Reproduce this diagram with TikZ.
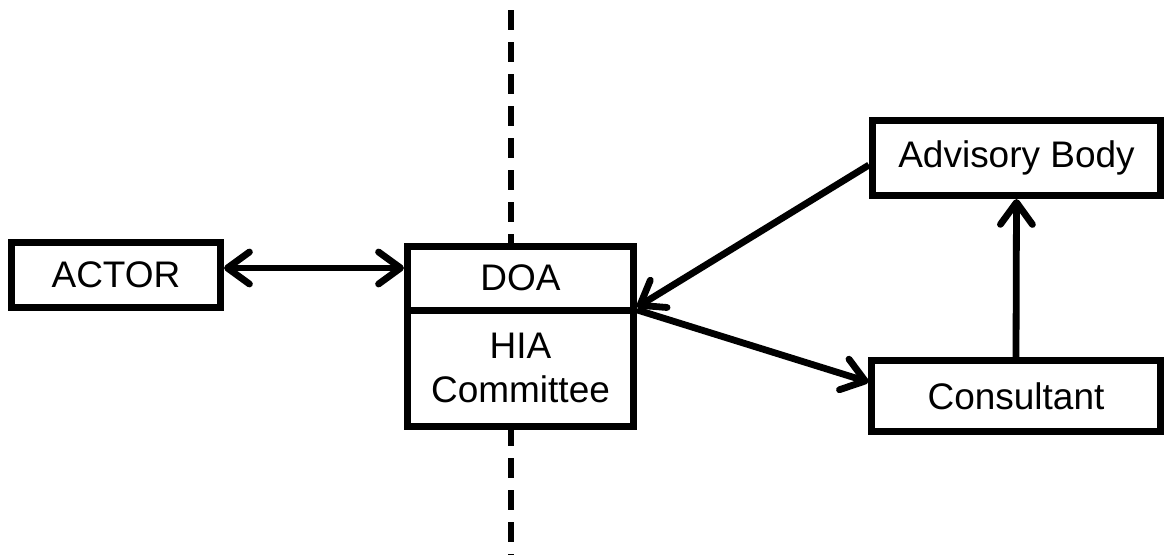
\documentclass[tikz,border=0pt]{standalone}
\usepackage{fontspec}
\setmainfont{Liberation Sans}
\usetikzlibrary{positioning, arrows.meta}

\begin{document}
\begin{tikzpicture}[
    x=0.025cm, y=-0.025cm,
    box/.style={
      draw, fill=white, line width=0.175cm, align=center,
      font=\fontsize{26.3}{31.5}\selectfont, inner sep=0pt
    },
    arr/.style={-{Straight Barb[length=0.55cm, width=0.8cm, round]}, line width=0.17cm},
    biarr/.style={{Straight Barb[length=0.55cm, width=0.8cm, round]}-{Straight Barb[length=0.55cm, width=0.8cm, round]}, line width=0.17cm},
    divider/.style={line width=0.15cm, dash pattern=on 0.5cm off 0.3cm},
]
    \useasboundingbox (0,0) rectangle (1164,555);

    % Dividing line
    \coordinate (top) at (511,10);
    \coordinate (bot) at (511,555);
    \draw[divider] (top) -- (bot);

    % Boxes
    \node[box, minimum width=5.225cm, minimum height=1.625cm] (actor) at (116,275) {ACTOR};
    \node[box, minimum width=5.65cm, minimum height=1.5875cm] (doa) at (520.5,278.25) {DOA};
    \node[box, minimum width=5.65cm, minimum height=2.9125cm, below=-0.175cm of doa] (hia) {HIA\\Committee};
    \node[box, minimum width=7.2cm, minimum height=1.875cm] (adv) at (1016.5,158) {Advisory Body};
    \node[box, minimum width=7.2cm, minimum height=1.775cm] (cons) at (1016,396) {Consultant};

    % Arrows
    \draw[biarr] ([yshift=0.175cm]actor.east) -- ([yshift=0.175cm]actor.east -| doa.west);
    \draw[arr] ([yshift=-0.175cm]adv.west) -- ([yshift=0.16cm]doa.south east);
    \draw[arr] ([yshift=0.09cm]doa.south east) -- ([yshift=0.35cm]cons.west);
    \draw[arr] (cons.north) -- (adv.south);
\end{tikzpicture}
\end{document}
